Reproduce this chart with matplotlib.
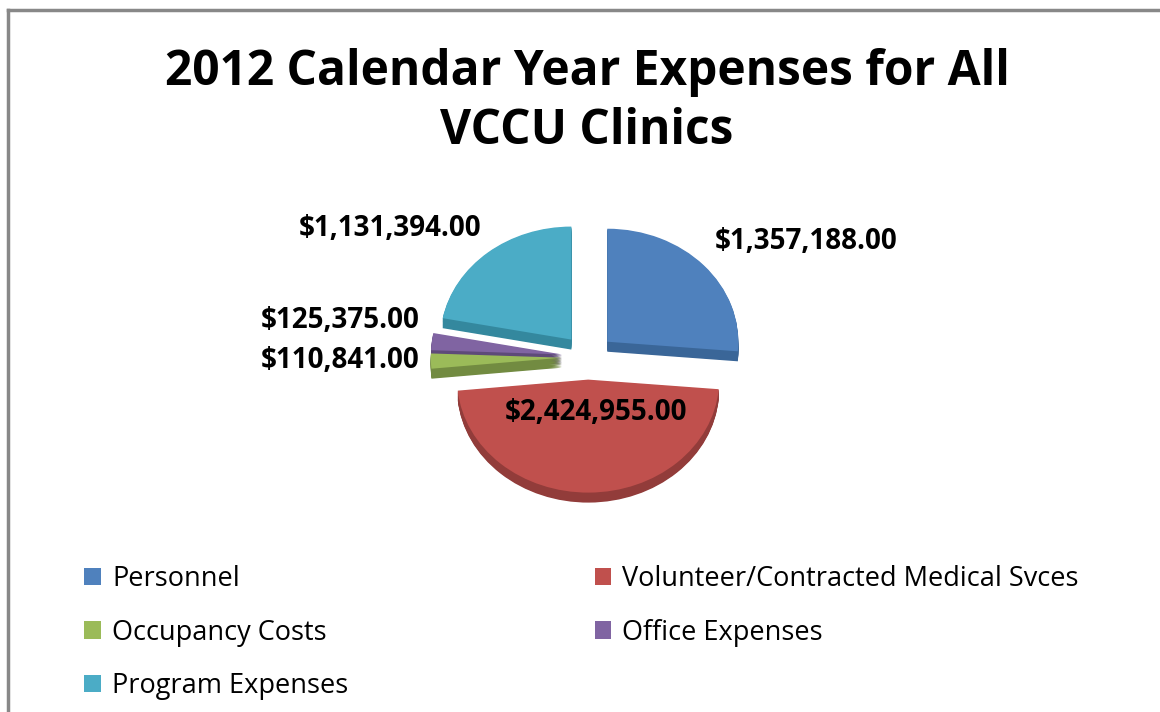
import numpy as np
import matplotlib.pyplot as plt
from matplotlib.lines import Line2D

plt.rcParams['font.family'] = ['Open Sans', 'DejaVu Sans']

categories = ['Personnel', 'Volunteer/Contracted Medical Svces', 'Occupancy Costs',
              'Office Expenses', 'Program Expenses']
expenses = [1357188, 2424955, 110841, 125375, 1131394]
value_labels = ['$1,357,188.00', '$2,424,955.00', '$110,841.00', '$125,375.00', '$1,131,394.00']
top_colors = ['#4F81BD', '#C0504D', '#9BBB59', '#8064A2', '#4BACC6']
side_colors = ['#3A6698', '#923C3A', '#728B41', '#5E4A79', '#34889E']

W, H = 1160, 712
fig = plt.figure(figsize=(W / 100, H / 100), dpi=100)

# gray frame (top + left only visible)
fig.add_artist(Line2D([8 / W, 8 / W], [0, 1 - 10 / H], color='#888888', lw=2.5))
fig.add_artist(Line2D([8 / W, 1], [1 - 10 / H, 1 - 10 / H], color='#888888', lw=2.5))

fig.text(587 / W, 1 - 102 / H, '2012 Calendar Year Expenses for All\nVCCU Clinics',
         ha='center', va='center', fontsize=34.5, fontweight='bold', linespacing=1.29)

# pie axes: 1 data unit = rx px horizontally, ry px vertically (tilted look)
cx, cy, rx, ry, span = 588, 357, 131, 113, 1.6
ax = fig.add_axes([(cx - rx * span) / W, (H - cy - ry * span) / H,
                   2 * rx * span / W, 2 * ry * span / H])

depth = 10 / ry
explode = [0.2] * len(expenses)
for k in np.linspace(depth, 0, 14)[:-1]:
    ax.pie(expenses, colors=side_colors, startangle=90, counterclock=False,
           explode=explode, center=(0, -k), wedgeprops=dict(linewidth=0))
wedges, _ = ax.pie(expenses, colors=top_colors, startangle=90, counterclock=False,
                   explode=explode, wedgeprops=dict(linewidth=0))
ax.set_xlim(-span, span)
ax.set_ylim(-span, span)
ax.set_aspect('auto')
ax.axis('off')

# data labels (pixel positions)
label_xy = [(806, 241, 'center'), (596, 413, 'center'), (420, 360, 'right'),
            (420, 320, 'right'), (390, 228, 'center')]
for (x, y, ha), txt in zip(label_xy, value_labels):
    fig.text(x / W, 1 - y / H, txt, ha=ha, va='center', fontsize=20, fontweight='bold')

order = [0, 2, 4, 1, 3]
fig.legend([wedges[i] for i in order], [categories[i] for i in order], ncol=2,
           loc='upper left', bbox_to_anchor=(60 / W, 1 - 541 / H), frameon=False,
           fontsize=19.5, handlelength=0.6, handleheight=0.6, handletextpad=0.42,
           labelspacing=0.93, columnspacing=9.1)

fig.savefig('out.png', dpi=100)
